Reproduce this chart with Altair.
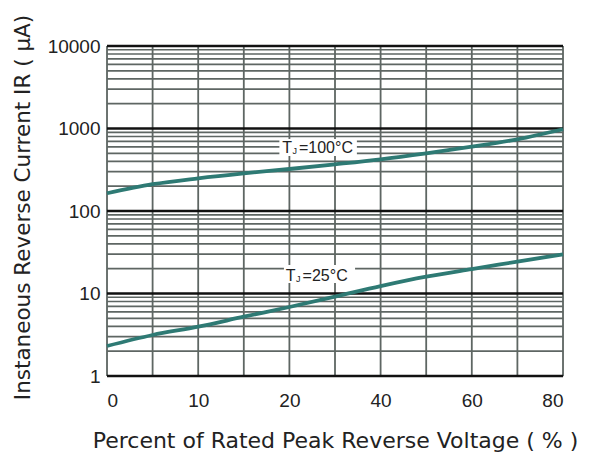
import altair as alt
import pandas as pd

# ---- data ----
x_pts = [0, 5, 10, 15, 20, 30, 40, 50, 60, 70, 80]
ir_100 = [164, 211, 249, 286, 323, 368, 423, 500, 601, 739, 980]
ir_25 = [2.31, 3.14, 3.96, 5.23, 6.86, 9.15, 12.3, 16.0, 19.8, 24.3, 29.9]

x_labels = [0, 10, 20, 40, 60, 80]
x_grid = [0, 5, 10, 15, 20, 30, 40, 50, 60, 70, 80]
y_decades = [1, 10, 100, 1000, 10000]
y_minor = [m * d for d in [1, 10, 100, 1000] for m in range(2, 10)]

lbl_names = ["100", "25"]
lbl_rest = ["=100°C", "=25°C"]
lbl_x = [22.1, 22.9]
lbl_y = [500, 14.2]
box_x1 = [18.9, 19.4]
box_x2 = [34.8, 34.4]
box_y1 = [464, 13.4]
box_y2 = [746, 22.2]

W, H = 456, 330
FONT = "Liberation Sans"
TFONT = "DejaVu Sans"
TEAL = "#2e7a74"
GRID = "#5e6663"

xscale = alt.Scale(domain=x_labels, range=[0, W * 0.2, W * 0.4, W * 0.6, W * 0.8, W])
yscale = alt.Scale(type="log", domain=[1, 10000], nice=False)

curves = pd.DataFrame(
    {"x": x_pts * 2, "y": ir_100 + ir_25, "s": ["100"] * len(x_pts) + ["25"] * len(x_pts)}
)
labels = pd.DataFrame(
    {"name": lbl_names, "rest": lbl_rest, "x": lbl_x, "y": lbl_y,
     "bx1": box_x1, "bx2": box_x2, "by1": box_y1, "by2": box_y2}
)

x_axis = alt.Axis(values=x_labels, grid=False, ticks=False, domain=False,
                  labelFont=FONT, labelFontSize=19, labelColor="#222", labelPadding=15,
                  title="Percent of Rated Peak Reverse Voltage ( % )",
                  titleFont=TFONT, titleFontSize=22, titleFontWeight="normal", titleColor="#222",
                  titleY=71, titleBaseline="alphabetic")
y_axis = alt.Axis(values=y_decades, grid=False, ticks=False, domain=False, format="d",
                  labelFont=FONT, labelFontSize=19, labelColor="#222", labelPadding=7,
                  title="Instaneous Reverse Current  IR ( μA)",
                  titleFont=TFONT, titleFontSize=21.5, titleFontWeight="normal", titleColor="#222",
                  titleX=-84, titleY=161, titleAngle=-90, titleAlign="center",
                  titleBaseline="middle")

vgrid = alt.Chart(pd.DataFrame({"x": x_grid})).mark_rule(
    color=GRID, strokeWidth=1.8
).encode(x=alt.X("x:Q", scale=xscale, axis=x_axis))

hminor = alt.Chart(pd.DataFrame({"y": y_minor})).mark_rule(
    color=GRID, strokeWidth=1.7
).encode(y=alt.Y("y:Q", scale=yscale, axis=y_axis))

hmajor = alt.Chart(pd.DataFrame({"y": y_decades})).mark_rule(
    color="#111", strokeWidth=2.4
).encode(y=alt.Y("y:Q", scale=yscale))

lines = alt.Chart(curves).mark_line(color=TEAL, strokeWidth=3.8, interpolate="monotone").encode(
    x=alt.X("x:Q", scale=xscale),
    y=alt.Y("y:Q", scale=yscale),
    detail="s:N",
)

boxes = alt.Chart(labels).mark_rect(color="white").encode(
    x=alt.X("bx1:Q", scale=xscale), x2="bx2:Q",
    y=alt.Y("by1:Q", scale=yscale), y2="by2:Q",
)

t_main = alt.Chart(labels).mark_text(
    font=FONT, fontSize=16, color="#222", align="left", baseline="alphabetic"
).encode(x=alt.X("x:Q", scale=xscale), y=alt.Y("y:Q", scale=yscale), text="rest:N")

t_T = alt.Chart(labels).mark_text(
    font=FONT, fontSize=16, color="#222", align="right", baseline="alphabetic", dx=-7
).encode(x=alt.X("x:Q", scale=xscale), y=alt.Y("y:Q", scale=yscale), text=alt.value("T"))

t_J = alt.Chart(labels).mark_text(
    font=FONT, fontSize=9, color="#222", align="left", baseline="alphabetic", dx=-6.5, dy=1
).encode(x=alt.X("x:Q", scale=xscale), y=alt.Y("y:Q", scale=yscale), text=alt.value("J"))

chart = alt.layer(vgrid, hminor, hmajor, lines, boxes, t_main, t_T, t_J).properties(
    width=W, height=H,
    autosize=alt.AutoSizeParams(type="none"),
    padding={"left": 99, "top": 38, "right": 27, "bottom": 76},
).configure_view(stroke="#1a1a1a", strokeWidth=2.6).configure(background="white")

chart.save("out.html", embed_options={"renderer": "svg", "actions": False})
